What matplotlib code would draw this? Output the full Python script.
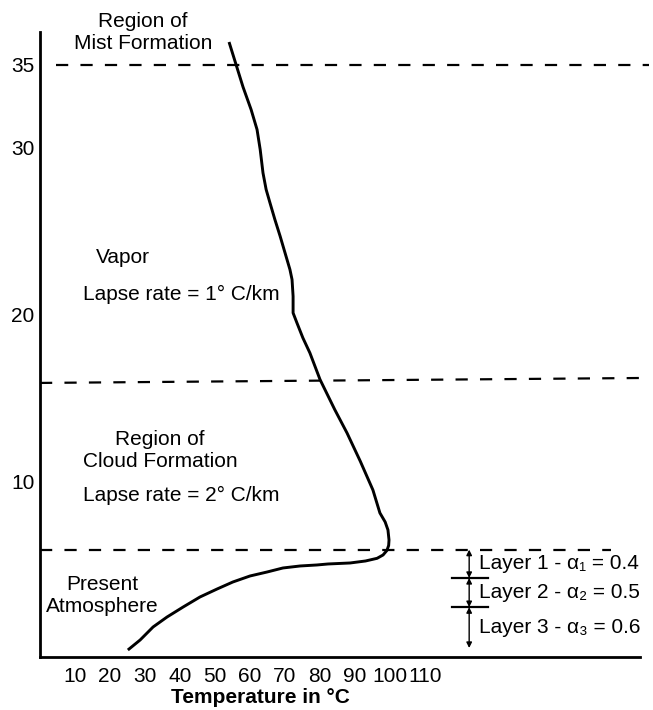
import matplotlib.pyplot as plt

plt.rcParams['font.family'] = ['Liberation Sans', 'DejaVu Sans']

# temperature profile (deg C) vs altitude (km)
temp = [25.1, 28.6, 32.3, 36.3, 40.9, 45.7, 50.6, 55.1, 60.0, 64.9, 69.4, 74.3,
        79.1, 82.3, 88.6, 93.0, 96.3, 98.0, 99.1, 99.6, 99.7, 99.4, 98.6, 97.1, 95.1,
        91.5, 87.7, 84.2, 80.0, 77.1, 75.1, 73.4, 72.3, 72.3, 72.0, 71.4, 70.0,
        68.6, 67.1, 65.7, 64.6, 63.7, 62.9, 62.0, 60.3, 58.0, 56.0, 54.0]
alt = [-0.12, 0.48, 1.26, 1.86, 2.46, 3.06, 3.54, 3.96, 4.32, 4.56, 4.80, 4.92,
       4.98, 5.04, 5.10, 5.22, 5.38, 5.58, 5.85, 6.15, 6.48, 7.08, 7.56, 8.10, 9.48,
       11.2, 12.9, 14.3, 16.1, 17.7, 18.6, 19.5, 20.1, 21.1, 22.1, 22.7, 23.7,
       24.7, 25.7, 26.7, 27.5, 28.5, 29.9, 31.1, 32.3, 33.65, 35.0, 36.35]

x_ticks = [10, 20, 30, 40, 50, 60, 70, 80, 90, 100, 110]
y_ticks = [10, 20, 30, 35]

# dashed region boundaries: (t0, t1, z0, z1)
boundaries = [(4.5, 174, 35.0, 35.0),
              (0, 174, 15.9, 16.2),
              (0, 163, 5.9, 5.9)]

# layer limits (km) and labels
layer_edges = [5.9, 4.2, 2.45, 0.0]
layer_labels = ['Layer 1 - α₁ = 0.4', 'Layer 2 - α₂ = 0.5', 'Layer 3 - α₃ = 0.6']

fig = plt.figure(figsize=(6.53, 7.10), dpi=100)
ax = fig.add_axes([40 / 653, 53 / 710, 600 / 653, 625 / 710])
ax.set_xlim(0, 171.4)
ax.set_ylim(-0.54, 36.95)

for s in ['top', 'right']:
    ax.spines[s].set_visible(False)
for s in ['left', 'bottom']:
    ax.spines[s].set_linewidth(2.0)

fs = 15
ax.set_xticks(x_ticks)
ax.set_xticklabels([str(v) for v in x_ticks])
ax.set_yticks(y_ticks)
ax.set_yticklabels([str(v) for v in y_ticks])
ax.tick_params(length=0, labelsize=fs, pad=4)
ax.tick_params(axis='x', pad=7)

ax.set_xlabel('Temperature in °C', fontsize=fs, fontweight='bold')
ax.xaxis.set_label_coords(0.367, -0.05)

ax.plot(temp, alt, color='black', lw=2.1, clip_on=False,
        solid_capstyle='butt', solid_joinstyle='round')

for t0, t1, z0, z1 in boundaries:
    ax.plot([t0, t1], [z0, z1], color='black', lw=1.6, dashes=(5.5, 5.5), clip_on=False)

# layer arrows and separators
xa = 122.6
for i in range(3):
    ax.annotate('', xy=(xa, layer_edges[i + 1]), xytext=(xa, layer_edges[i]),
                arrowprops=dict(arrowstyle='<|-|>', lw=1.0, color='black',
                                mutation_scale=8, shrinkA=0, shrinkB=0),
                annotation_clip=False)
    ax.text(125.4, (layer_edges[i] + layer_edges[i + 1]) / 2, layer_labels[i],
            fontsize=fs, ha='left', va='center')
for z in layer_edges[1:3]:
    ax.plot([117.7, 127.9], [z, z], color='black', lw=1.6)

ax.text(29.4, 36.9, 'Region of\nMist Formation', fontsize=fs, ha='center', va='center',
        linespacing=1.2, clip_on=False)
ax.text(16.0, 23.45, 'Vapor', fontsize=fs, ha='left', va='center')
ax.text(12.3, 21.2, 'Lapse rate = 1° C/km', fontsize=fs, ha='left', va='center')
ax.text(34.3, 11.85, 'Region of\nCloud Formation', fontsize=fs, ha='center', va='center',
        linespacing=1.2)
ax.text(12.3, 9.12, 'Lapse rate = 2° C/km', fontsize=fs, ha='left', va='center')
ax.text(17.7, 3.15, 'Present\nAtmosphere', fontsize=fs, ha='center', va='center',
        linespacing=1.2)

fig.savefig('out.png', dpi=100)
